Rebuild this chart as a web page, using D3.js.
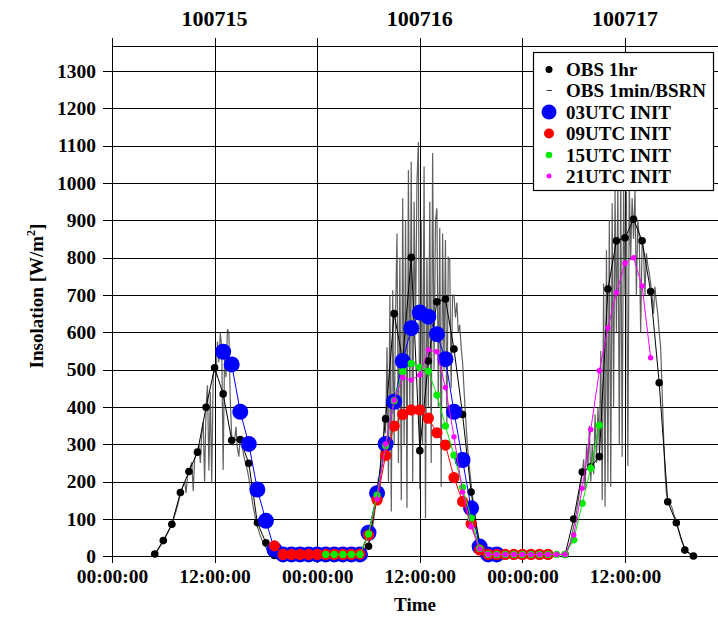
<!DOCTYPE html>
<html><head><meta charset="utf-8">
<script src="https://cdn.jsdelivr.net/npm/d3@7/dist/d3.min.js"></script>
<style>body{margin:0;background:#fff}svg{display:block}</style>
</head><body><svg id="c" width="718" height="617"></svg>
<script>
// ---------- data ----------
const dayLabels = ["100715", "100716", "100717"];
const dayLabelHours = [12, 36, 60];
const xTickHours = [0, 12, 24, 36, 48, 60];
const xTickLabels = ["00:00:00", "12:00:00", "00:00:00", "12:00:00", "00:00:00", "12:00:00"];
const yTicks = [0, 100, 200, 300, 400, 500, 600, 700, 800, 900, 1000, 1100, 1200, 1300];

// OBS 1hr (hours since 2010-07-15 00 UTC)
const obs1hrHours = [5,6,7,8,9,10,11,12,13,14,15,16,17,18,19,
  29,30,31,32,33,34,35,36,37,38,39,40,41,42,43,44,
  53,54,55,56,57,58,59,60,61,62,63,64,65,66,67,68];
const obs1hrValues = [6,42,86,171,227,279,399,505,435,311,313,249,90,36,2,
  4,27,165,368,650,525,801,283,523,682,689,555,380,172,30,2,
  5,100,226,240,267,716,845,853,903,845,709,465,146,90,17,1];

// OBS 1min/BSRN, read every 10 minutes
const bsrnStarts = [4.5, 28.5, 52.5];
const bsrnDay1 = [0,0,2,
  5,10,16,22,28,35,
  42,48,55,62,70,78,
  88,98,110,122,136,152,
  166,178,190,200,170,214,
  226,240,252,175,262,272,
  282,300,250,330,360,200,
  400,458,230,440,196,480,
  510,480,575,520,599,560,
  231,540,480,608,600,420,
  320,300,310,347,290,267,
  320,300,280,260,245,230,
  210,185,160,135,115,95,
  80,68,56,46,37,30,
  24,18,13,8,5,2,
  0];
const bsrnDay2 = [0,1,3,
  6,9,13,17,22,27,
  33,45,60,80,110,140,
  175,210,160,300,250,380,
  330,560,200,700,120,713,
  300,650,865,250,800,150,
  959,300,900,130,1035,400,
  1057,200,950,600,1000,1110,
  180,900,300,1044,102,800,
  400,950,250,1080,500,900,
  932,400,880,186,865,500,
  847,350,800,794,450,700,
  700,640,680,600,620,560,
  520,450,380,320,270,230,
  195,160,130,100,75,55,
  40,28,18,10,5,2,
  0];
const bsrnDay3 = [0,1,3,
  5,10,18,28,42,60,
  80,100,120,145,170,195,
  220,260,180,300,240,350,
  200,300,220,380,250,400,
  280,550,150,731,133,820,
  200,901,186,946,400,980,
  600,1000,300,1020,267,990,
  700,977,242,1000,800,960,
  850,980,700,900,856,600,
  840,820,700,812,780,760,
  730,700,650,722,680,650,
  600,560,450,330,230,170,
  150,142,137,130,115,105,
  97,80,65,50,38,30,
  24,18,12,7,4,2,
  0];

// forecasts: first hour (lead 10 h) and hourly values
const init03Start = 13;
const init03Values = [548,514,387,301,179,95,18,
  5,5,5,5,5,5,5,5,5,5,
  63,169,301,414,523,611,653,642,595,528,387,258,129,26,
  5,5];
const init09Start = 19;
const init09Values = [28,
  5,5,5,5,5,5,5,5,5,6,
  57,151,270,349,380,392,392,370,331,298,211,147,87,17,
  5,5,5,5,5,5,5,5];
const init15Start = 25;
const init15Values = [5,5,5,5,5,
  60,164,296,417,495,517,506,496,432,349,271,185,102,21,
  5,5,5,5,5,5,5,5,5,5,
  44,142,236,351];
const init21Start = 31;
const init21Values = [153,301,418,479,472,486,553,548,452,320,172,80,20,
  5,5,5,5,5,5,5,5,5,5,
  57,182,340,497,612,706,785,800,724,532];

const legendLabels = ["OBS 1hr", "OBS 1min/BSRN", "03UTC INIT", "09UTC INIT", "15UTC INIT", "21UTC INIT"];

// ---------- drawing ----------
const W = 718, H = 617;
const FONT = "'Liberation Serif','Times New Roman',serif";
const svg = d3.select("#c");
svg.append("rect").attr("width", W).attr("height", H).attr("fill", "#fff");

const x = d3.scaleLinear().domain([0, 72]).range([112, 112 + 72 * 8.55]);
const y = d3.scaleLinear().domain([0, 1300]).range([556.3, 71]);
const plotTop = 46;
const rightEdge = W + 20;

const grid = svg.append("g").attr("stroke", "#000").attr("stroke-width", 1.1).attr("shape-rendering", "crispEdges");
grid.selectAll("line.h").data(yTicks).join("line")
  .attr("x1", x(0)).attr("x2", rightEdge)
  .attr("y1", d => Math.round(y(d)) + 0.5).attr("y2", d => Math.round(y(d)) + 0.5);
grid.append("line").attr("x1", x(0)).attr("x2", rightEdge).attr("y1", plotTop + 0.5).attr("y2", plotTop + 0.5);
grid.selectAll("line.v").data(xTickHours).join("line")
  .attr("x1", d => Math.round(x(d)) + 0.5).attr("x2", d => Math.round(x(d)) + 0.5)
  .attr("y1", plotTop - 8).attr("y2", y(0) + 7);

const yAxis = svg.append("g").attr("transform", `translate(${x(0)},0)`)
  .call(d3.axisLeft(y).tickValues(yTicks).tickSize(9).tickPadding(7).tickFormat(d3.format("d")));
const xAxis = svg.append("g").attr("transform", `translate(0,${y(0)})`)
  .call(d3.axisBottom(x).tickValues(xTickHours).tickSize(7).tickPadding(6).tickFormat((d, i) => xTickLabels[i]));
[yAxis, xAxis].forEach(a => {
  a.select(".domain").remove();
  a.selectAll("line").attr("stroke", "#000").attr("stroke-width", 1.1).attr("shape-rendering", "crispEdges");
  a.selectAll("text").attr("font-family", FONT).attr("font-size", 19.5).attr("font-weight", "bold").attr("fill", "#000");
});

svg.append("g").selectAll("text").data(dayLabels).join("text")
  .attr("x", (d, i) => x(dayLabelHours[i])).attr("y", 26)
  .attr("text-anchor", "middle").attr("font-family", FONT).attr("font-size", 22).attr("font-weight", "bold")
  .text(d => d);

svg.append("text").attr("x", 415).attr("y", 611).attr("text-anchor", "middle")
  .attr("font-family", FONT).attr("font-size", 19).attr("font-weight", "bold").text("Time");
const yl = svg.append("text").attr("transform", "translate(43,296) rotate(-90)").attr("text-anchor", "middle")
  .attr("font-family", FONT).attr("font-size", 19).attr("font-weight", "bold");
yl.append("tspan").text("Insolation [W/m");
yl.append("tspan").attr("font-size", 12).attr("dy", -8).text("2");
yl.append("tspan").attr("dy", 8).text("]");

// BSRN 1 min
const line = d3.line().x(d => x(d[0])).y(d => y(d[1]));
const bsrnDays = [bsrnDay1, bsrnDay2, bsrnDay3];
svg.append("g").selectAll("path").data(bsrnDays).join("path")
  .attr("d", (vals, k) => line(vals.map((v, i) => [bsrnStarts[k] + i / 6, v])))
  .attr("fill", "none").attr("stroke", "#444").attr("stroke-opacity", 0.85).attr("stroke-width", 1.2);

// OBS 1hr segments
const obsPts = obs1hrHours.map((h, i) => [h, obs1hrValues[i]]);
const obsSegs = [];
obsPts.forEach((p, i) => {
  if (i === 0 || p[0] - obsPts[i - 1][0] > 1) obsSegs.push([]);
  obsSegs[obsSegs.length - 1].push(p);
});
const obsG = svg.append("g");
obsG.selectAll("path").data(obsSegs).join("path").attr("d", line)
  .attr("fill", "none").attr("stroke", "#000").attr("stroke-width", 1);
obsG.selectAll("circle").data(obsPts).join("circle")
  .attr("cx", d => x(d[0])).attr("cy", d => y(d[1])).attr("r", 3.8).attr("fill", "#000");

// forecasts
const forecasts = [
  {start: init03Start, values: init03Values, color: "#0000ff", r: 8},
  {start: init09Start, values: init09Values, color: "#ff0000", r: 5.6},
  {start: init15Start, values: init15Values, color: "#00ee00", r: 3.6},
  {start: init21Start, values: init21Values, color: "#ff00ff", r: 2.7}
];
forecasts.forEach(f => {
  const pts = f.values.map((v, i) => [f.start + i, v]);
  const g = svg.append("g");
  g.append("path").attr("d", line(pts)).attr("fill", "none").attr("stroke", f.color).attr("stroke-width", 1);
  g.selectAll("circle").data(pts).join("circle")
    .attr("cx", d => x(d[0])).attr("cy", d => y(d[1])).attr("r", f.r).attr("fill", f.color);
});

// legend
const lg = svg.append("g");
lg.append("rect").attr("x", 533.5).attr("y", 52.5).attr("width", 180).attr("height", 138)
  .attr("fill", "#fff").attr("stroke", "#000").attr("stroke-width", 1.2);
const rowY = [69.5, 90.5, 112, 133.5, 155, 176];
legendLabels.forEach((t, i) => {
  lg.append("text").attr("x", 566).attr("y", rowY[i]).attr("dy", "0.35em")
    .attr("font-family", FONT).attr("font-size", 19).attr("font-weight", "bold").text(t);
});
lg.append("circle").attr("cx", 549).attr("cy", rowY[0]).attr("r", 3.5).attr("fill", "#000");
lg.append("line").attr("x1", 546.5).attr("x2", 552).attr("y1", rowY[1]).attr("y2", rowY[1]).attr("stroke", "#333").attr("stroke-width", 1);
forecasts.forEach((f, i) => {
  lg.append("circle").attr("cx", 549).attr("cy", rowY[i + 2]).attr("r", [7.5, 5, 3.3, 2.5][i]).attr("fill", f.color);
});
</script></body></html>
